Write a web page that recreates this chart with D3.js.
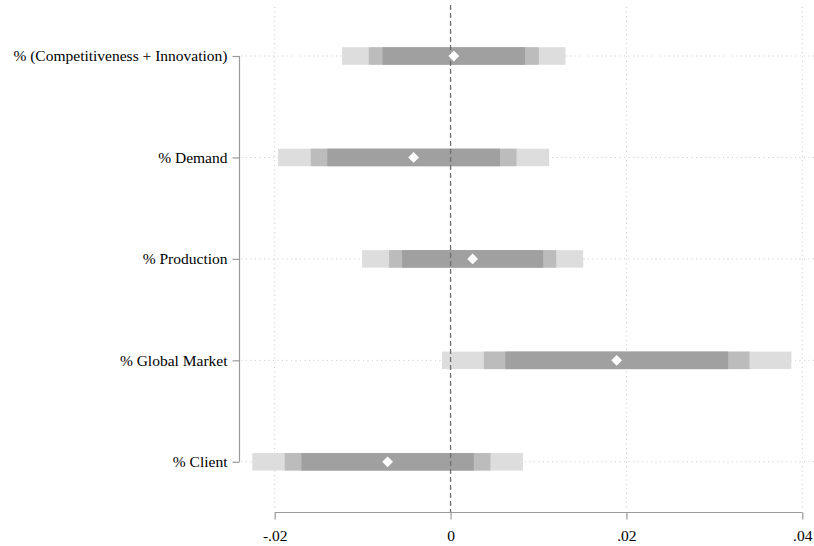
<!DOCTYPE html>
<html>
<head>
<meta charset="utf-8">
<script src="https://cdn.jsdelivr.net/npm/d3@7"></script>
<style>
  html, body { margin: 0; padding: 0; background: #fff; }
  svg { display: block; }
  text { font-family: "Liberation Serif", "Times New Roman", serif; fill: #000; }
</style>
</head>
<body>
<svg id="chart" width="814" height="546"></svg>
<script>
// Coefficient estimates with 90 / 95 / 99 % confidence intervals
const categories = [
  "% (Competitiveness + Innovation)",
  "% Demand",
  "% Production",
  "% Global Market",
  "% Client"
];
const estimates = [0.00037, -0.00420, 0.00251, 0.01889, -0.00716];
const ci99Low  = [-0.01233, -0.01961, -0.01006, -0.00098, -0.02255];
const ci99High = [ 0.01307,  0.01121,  0.01508,  0.03876,  0.00823];
const ci95Low  = [-0.00930, -0.01590, -0.00699,  0.00379, -0.01886];
const ci95High = [ 0.01004,  0.00750,  0.01201,  0.03399,  0.00454];
const ci90Low  = [-0.00773, -0.01402, -0.00551,  0.00622, -0.01696];
const ci90High = [ 0.00847,  0.00562,  0.01053,  0.03156,  0.00264];
const xTicks = [-0.02, 0, 0.02, 0.04];
const xTickLabels = ["-.02", "0", ".02", ".04"];

const svg = d3.select("#chart");
const W = 814;
const plotTop = 7, plotBottom = 512.5;
const axisX = 239.5;

const x = d3.scaleLinear().domain([-0.02, 0.04]).range([274.7, 802.3]);
const y = d3.scalePoint().domain(categories).range([56, 461.8]);

const rows = categories.map((c, i) => ({
  cat: c,
  est: estimates[i],
  bands: [
    { lo: ci99Low[i], hi: ci99High[i], fill: "#dddddd" },
    { lo: ci95Low[i], hi: ci95High[i], fill: "#bcbcbc" },
    { lo: ci90Low[i], hi: ci90High[i], fill: "#a0a0a0" }
  ]
}));

// Grid lines
const grid = svg.append("g").attr("stroke", "#c8c8c8").attr("stroke-width", 1)
  .attr("stroke-dasharray", "1,3.5").attr("fill", "none");
grid.selectAll("line.v").data(xTicks.filter(t => t !== 0)).join("line")
  .attr("class", "v")
  .attr("x1", d => x(d)).attr("x2", d => x(d))
  .attr("y1", plotTop).attr("y2", plotBottom - 4);
grid.selectAll("line.h").data(categories).join("line")
  .attr("class", "h")
  .attr("x1", axisX + 2).attr("x2", W)
  .attr("y1", d => y(d)).attr("y2", d => y(d));

// Confidence bands
const barH = 17.5;
const bandG = svg.append("g");
rows.forEach(r => {
  bandG.selectAll(null).data(r.bands).join("rect")
    .attr("x", d => x(d.lo))
    .attr("width", d => x(d.hi) - x(d.lo))
    .attr("y", y(r.cat) - barH / 2)
    .attr("height", barH)
    .attr("fill", d => d.fill);
});

// Reference line at zero
svg.append("line")
  .attr("x1", x(0)).attr("x2", x(0))
  .attr("y1", plotTop - 2).attr("y2", plotBottom)
  .attr("stroke", "#6e6e6e").attr("stroke-width", 1.3)
  .attr("stroke-dasharray", "5,3");

// Point estimates as white diamonds
const dr = 5.4;
svg.append("g").selectAll("path").data(rows).join("path")
  .attr("d", d => {
    const cx = x(d.est), cy = y(d.cat);
    return `M${cx},${cy - dr}L${cx + dr},${cy}L${cx},${cy + dr}L${cx - dr},${cy}Z`;
  })
  .attr("fill", "#fff");

// Y axis
const yAxis = svg.append("g").attr("transform", `translate(${axisX},0)`)
  .call(d3.axisLeft(y).tickSize(7).tickPadding(5).tickSizeOuter(0));
yAxis.select(".domain").attr("stroke", "#9a9a9a").attr("stroke-width", 1.2)
  .attr("d", `M0,${y(categories[0])}V${y(categories[categories.length - 1])}`);
yAxis.selectAll(".tick line").attr("stroke", "#9a9a9a").attr("stroke-width", 1.2);
yAxis.selectAll(".tick text")
  .style("font-family", "'Liberation Serif', 'Times New Roman', serif")
  .style("font-size", "15.5px").attr("fill", "#000");

// X axis
const xAxis = svg.append("g").attr("transform", `translate(0,${plotBottom})`)
  .call(d3.axisBottom(x).tickValues(xTicks)
    .tickFormat((d, i) => xTickLabels[i]).tickSize(7).tickPadding(10).tickSizeOuter(0));
xAxis.select(".domain").attr("stroke", "#9a9a9a").attr("stroke-width", 1.2)
  .attr("d", `M${x(xTicks[0])},0H${x(xTicks[xTicks.length - 1])}`);
xAxis.selectAll(".tick line").attr("stroke", "#9a9a9a").attr("stroke-width", 1.2);
xAxis.selectAll(".tick text")
  .style("font-family", "'Liberation Serif', 'Times New Roman', serif")
  .style("font-size", "15.5px").attr("fill", "#000");
</script>
</body>
</html>
